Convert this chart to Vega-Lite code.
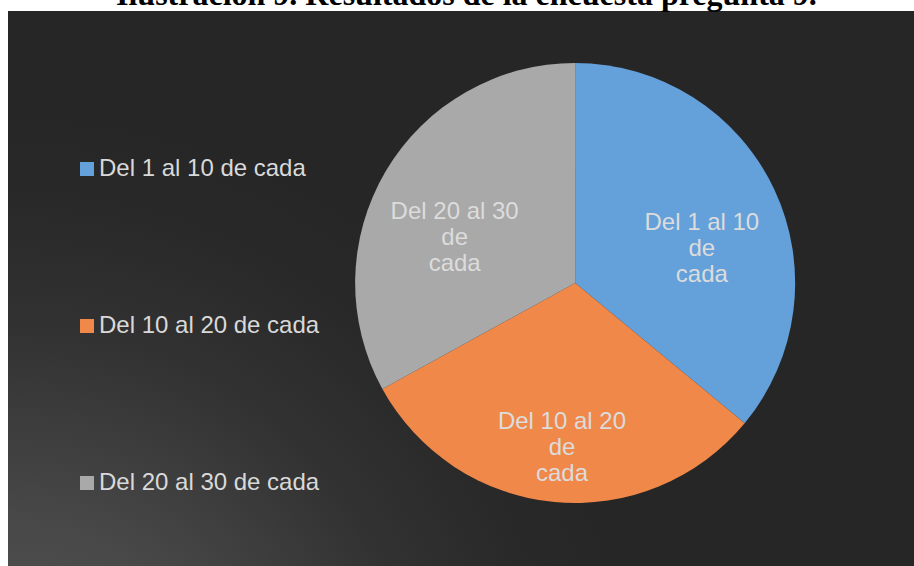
{
  "$schema": "https://vega.github.io/schema/vega-lite/v6.json",
  "width": 906,
  "height": 555,
  "autosize": {"type": "none"},
  "padding": {"top": 11, "left": 8, "right": 0, "bottom": 0},
  "background": "white",
  "config": {"view": {"stroke": null}},
  "title": {
    "text": "Ilustración 9. Resultados de la encuesta pregunta 9.",
    "font": "Liberation Serif",
    "fontSize": 32,
    "fontWeight": "bold",
    "color": "black",
    "anchor": "start",
    "dx": 108,
    "dy": 27,
    "baseline": "alphabetic",
    "offset": 1
  },
  "data": {
    "values": [
      {"rango": "Del 1 al 10 de cada", "valor": 36, "etiqueta": "Del 1 al 10\nde\ncada", "orden": 1},
      {"rango": "Del 10 al 20 de cada", "valor": 31, "etiqueta": "Del 10 al 20\nde\ncada", "orden": 2},
      {"rango": "Del 20 al 30 de cada", "valor": 33, "etiqueta": "Del 20 al 30\nde\ncada", "orden": 3}
    ]
  },
  "layer": [
    {
      "data": {"values": [{"fondo": 1}]},
      "mark": {
        "type": "rect",
        "x": 0, "x2": "width", "y": 0, "y2": "height",
        "color": {
          "gradient": "radial",
          "x1": 0, "y1": 1, "x2": 0, "y2": 1, "r1": 0, "r2": 0.7,
          "stops": [
            {"offset": 0, "color": "#5a5a5a"},
            {"offset": 0.35, "color": "#484848"},
            {"offset": 0.65, "color": "#323232"},
            {"offset": 0.85, "color": "#292929"},
            {"offset": 1, "color": "#262626"}
          ]
        }
      },
      "encoding": {}
    },
    {
      "mark": {"type": "arc", "radius": 220, "x": {"expr": "width*0.626"}, "y": 272, "strokeWidth": 0},
      "encoding": {
        "theta": {"field": "valor", "type": "quantitative", "stack": true},
        "order": {"field": "orden", "type": "quantitative"},
        "color": {
          "field": "rango",
          "type": "nominal",
          "scale": {
            "domain": ["Del 1 al 10 de cada", "Del 10 al 20 de cada", "Del 20 al 30 de cada"],
            "range": ["#64a0da", "#f08849", "#a9a9a9"]
          },
          "legend": {
            "title": null,
            "orient": "none",
            "legendX": 67,
            "legendY": 146,
            "direction": "vertical",
            "padding": 0,
            "symbolType": "square",
            "symbolSize": 196,
            "symbolStrokeWidth": 0,
            "labelFont": "Liberation Sans",
            "labelFontSize": 24,
            "labelColor": "#d9d9d9",
            "labelOffset": 0,
            "labelLimit": 400,
            "rowPadding": 133
          }
        }
      }
    },
    {
      "mark": {
        "type": "text",
        "radius": 140,
        "x": {"expr": "width*0.626"},
        "y": 272,
        "font": "Liberation Sans",
        "fontSize": 24,
        "lineHeight": 26,
        "lineBreak": "\n",
        "color": "#dcdcdc",
        "align": "center",
        "baseline": "middle"
      },
      "encoding": {
        "theta": {"field": "valor", "type": "quantitative", "stack": true},
        "order": {"field": "orden", "type": "quantitative"},
        "text": {"field": "etiqueta", "type": "nominal"}
      }
    }
  ]
}
